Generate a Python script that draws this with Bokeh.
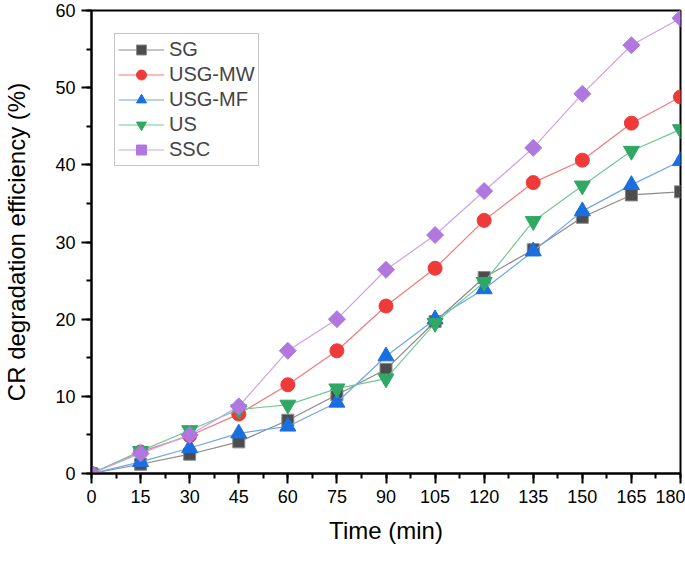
import numpy as np
from bokeh.plotting import figure
from bokeh.models import SingleIntervalTicker, Range1d, Legend, LegendItem
from bokeh.embed import file_html
from bokeh.resources import INLINE

time = [0, 15, 30, 45, 60, 75, 90, 105, 120, 135, 150, 165, 180]
sg = [0, 1.2, 2.5, 4.1, 6.9, 10.2, 13.5, 19.7, 25.4, 29.0, 33.2, 36.1, 36.5]
usg_mw = [0, 2.8, 4.9, 7.7, 11.5, 15.9, 21.7, 26.6, 32.8, 37.7, 40.6, 45.4, 48.8]
usg_mf = [0, 1.5, 3.3, 5.2, 6.1, 9.2, 15.2, 20.0, 23.9, 28.8, 34.0, 37.4, 40.5]
us = [0, 2.9, 5.6, 8.3, 8.9, 11.0, 12.3, 19.5, 24.8, 32.7, 37.3, 41.8, 44.6]
ssc = [0, 2.6, 5.0, 8.7, 15.9, 20.0, 26.4, 30.9, 36.6, 42.2, 49.2, 55.5, 59.0]

names = ["SG", "USG-MW", "USG-MF", "US", "SSC"]
series = [sg, usg_mw, usg_mf, us, ssc]

FONT = "Liberation Sans"

p = figure(width=685, height=564, output_backend="svg", toolbar_location=None,
           x_range=Range1d(0, 180), y_range=Range1d(0, 60),
           min_border_left=91, min_border_right=5, min_border_top=10, min_border_bottom=91)

styles = [
    dict(marker="square", size=12, fill="#4d4d4d", mline="#8a8a8a", line="#8a8a8a", angle=0),
    dict(marker="circle", size=14, fill="#ef3a3a", mline="#ef3a3a", line="#f47a7a", angle=0),
    dict(marker="triangle", size=16, fill="#1a6fe0", mline="#1a6fe0", line="#6ea6ee", angle=0),
    dict(marker="inverted_triangle", size=16, fill="#30a865", mline="#30a865", line="#72c995", angle=0),
    dict(marker="square", size=12, fill="#b078de", mline="#b078de", line="#c9a3ec", angle=np.pi / 4),
]

items = []
for name, ys, st in zip(names, series, styles):
    r1 = p.line(time, ys, line_color=st["line"], line_width=1.2)
    r2 = p.scatter(time, ys, marker=st["marker"], size=st["size"], fill_color=st["fill"],
                   line_color=st["mline"], line_width=1, angle=st["angle"])
    items.append(LegendItem(label=name, renderers=[r1, r2]))

legend = Legend(items=items, location="top_left")
legend.margin = 23
legend.label_text_font = FONT
legend.label_text_font_size = "20px"
legend.glyph_width = 46
legend.glyph_height = 25
legend.label_height = 25
legend.spacing = 0
legend.padding = 3
legend.label_standoff = 5
legend.border_line_color = "#8c8c8c"
legend.border_line_width = 1.5
legend.background_fill_alpha = 1
p.add_layout(legend)

p.xaxis.ticker = SingleIntervalTicker(interval=15, num_minor_ticks=2)
p.yaxis.ticker = SingleIntervalTicker(interval=10, num_minor_ticks=2)
p.xgrid.visible = False
p.ygrid.visible = False

for ax in (p.xaxis[0], p.yaxis[0]):
    ax.axis_line_width = 2
    ax.axis_line_color = "black"
    ax.major_tick_line_width = 2
    ax.minor_tick_line_width = 2
    ax.major_tick_out = 10
    ax.major_tick_in = 0
    ax.minor_tick_out = 5
    ax.minor_tick_in = 0
    ax.major_label_text_font = FONT
    ax.major_label_text_font_size = "18px"
    ax.major_label_text_color = "black"
    ax.axis_label_text_font = FONT
    ax.axis_label_text_font_size = "24px"
    ax.axis_label_text_font_style = "normal"
    ax.axis_label_text_color = "black"

p.xaxis.axis_label = "Time (min)"
p.yaxis.axis_label = "CR degradation efficiency (%)"
p.xaxis.major_label_standoff = 6
p.yaxis.major_label_standoff = 6
p.xaxis.axis_label_standoff = 11
p.yaxis.axis_label_standoff = 22

p.outline_line_color = "black"
p.outline_line_width = 2
p.outline_line_alpha = 1

open("out.html", "w").write(file_html(p, INLINE))
